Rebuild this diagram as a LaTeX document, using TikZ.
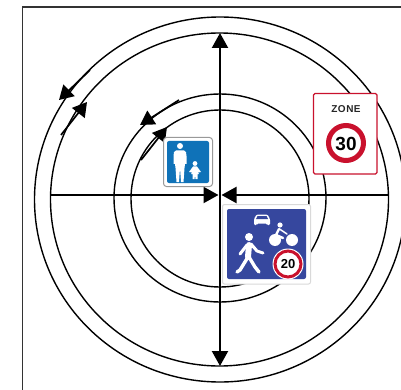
\documentclass[tikz,border=0pt]{standalone}
\usepackage{fontspec}
\setmainfont{Liberation Sans}
\usetikzlibrary{arrows.meta}
\definecolor{signblue}{HTML}{0F72B8}
\definecolor{zoneblue}{HTML}{36479E}
\definecolor{signred}{HTML}{C9112D}
\definecolor{framegrey}{HTML}{333333}
\tikzset{
  ring/.style={draw=black,line width=1.4pt},
  axis/.style={draw=black,line width=2.2pt,-{Triangle[length=15pt,width=16pt]}},
  flow/.style={draw=black,line width=1.7pt,-{Triangle[length=14pt,width=16pt]}},
  figure/.style={fill=white,draw=none},
  limb/.style={draw=white,line cap=round,line join=round},
  speedtext/.style={font=\bfseries,inner sep=0pt,text=black}
}
\begin{document}
\begin{tikzpicture}[x=1pt,y=-1pt]
\useasboundingbox (0,0) rectangle (401,390);
\fill[white] (0,0) rectangle (401,390);
% frame
\coordinate (fa) at (22.5,390);
\coordinate (fb) at (22.5,7);
\coordinate (fc) at (401,7);
\draw[framegrey,line width=1.4pt] (fa) -- (fb) -- (fc);
% rings
\begin{scope}
\clip (0,0) rectangle (401,390);
\draw[ring] (220,199.5) ellipse [x radius=185.5,y radius=182.5];
\draw[ring] (219.5,199.5) ellipse [x radius=169,y radius=166.5];
\draw[ring] (220,198) ellipse [x radius=106,y radius=104];
\draw[ring] (220,198.5) ellipse [x radius=89,y radius=88.5];
\end{scope}
% axes
\coordinate (c) at (220,195);
\coordinate (t) at (220,33);
\coordinate (b) at (220,366);
\coordinate (l) at (50,195);
\coordinate (r) at (388,195);
\coordinate (il) at (218.5,195);
\coordinate (ir) at (221.5,195);
\draw[axis] (c) -- (t);
\draw[axis] (c) -- (b);
\draw[axis] (l) -- (il);
\draw[axis] (r) -- (ir);
% flow arrows
\coordinate (a1s) at (90,70);   \coordinate (a1e) at (59,100);
\coordinate (a2s) at (61,135);  \coordinate (a2e) at (87,102);
\coordinate (a3s) at (179,100); \coordinate (a3e) at (140,125);
\coordinate (a4s) at (141,160); \coordinate (a4e) at (167,127);
\draw[flow] (a1s) -- (a1e);
\draw[flow] (a2s) -- (a2e);
\draw[flow] (a3s) -- (a3e);
\draw[flow] (a4s) -- (a4e);
% small pedestrian sign
\draw[draw=black!40,fill=white,line width=1pt,rounded corners=3pt] (163.5,137.5) rectangle (212.5,186.5);
\fill[signblue,rounded corners=2pt] (167,141) rectangle (209,183);
\fill[white] (180,146) circle (3);
\fill[figure] (176,150.5) -- (184,150.5) .. controls (186,150.5) and (186.5,153) .. (186.5,156) -- (186.5,164) -- (185,164) -- (184.5,168) -- (183.5,182) -- (181,182) -- (180,168) -- (179,182) -- (176.5,182) -- (175.5,168) -- (175,164) -- (173.5,164) -- (173.5,156) .. controls (173.5,153) and (174,150.5) .. (176,150.5) -- cycle;
\fill[white] (195,163.5) circle (2.4);
\fill[figure] (193,166.5) -- (197,166.5) -- (201,172) -- (198,172.5) -- (199,174) -- (197.5,174) -- (197.5,179) -- (195.5,179) -- (195,175) -- (194.5,179) -- (192.5,179) -- (192.5,174) -- (191,174) -- (192,172.5) -- (189,172) -- cycle;
% large shared-space sign
\draw[draw=black!15,fill=white,line width=1pt,rounded corners=2pt] (222.5,204.5) rectangle (310.5,284);
\fill[zoneblue,rounded corners=2pt] (227,209) rectangle (306,279);
% car
\fill[figure,rounded corners=1.2pt] (254,225) -- (254,219) -- (256.5,214.5) -- (267.5,214.5) -- (270,219) -- (270,225) -- (267,225) -- (267,223.5) -- (257,223.5) -- (257,225) -- cycle;
\fill[zoneblue] (257.5,216) -- (266.5,216) -- (268,219) -- (256,219) -- cycle;
% cyclist
\fill[white] (275,240) circle (6);
\fill[white] (292,240) circle (6);
\fill[white] (280,225) circle (2.6);
\draw[limb,line width=2.4pt] (279,229) -- (276,235) -- (283,238);
\draw[limb,line width=1.5pt] (279.5,229) -- (287,234);
% walking man
\fill[white] (249,237) circle (4);
\draw[limb,line width=6pt] (249,245) -- (248,257);
\draw[limb,line width=3pt] (247,245) -- (240,254);
\draw[limb,line width=3pt] (251,244) -- (257,251) -- (263,253);
\draw[limb,line width=3.4pt] (248,257) -- (240,270) -- (237,272);
\draw[limb,line width=3.4pt] (249,257) -- (255,267) -- (259,272);
% 20 roundel
\fill[white] (288,264) circle (15.5);
\draw[signred,line width=3pt,fill=white] (288,264) circle (13);
\node[speedtext,font=\bfseries\fontsize{13pt}{13pt}\selectfont] (limit20) at (288,264.5) {20};
% zone 30 sign
\draw[draw=signred,fill=white,line width=1.4pt,rounded corners=1.5pt] (313.5,93.5) rectangle (377,174);
\node[speedtext,font=\bfseries\fontsize{10pt}{10pt}\selectfont,text=black!85] (zone) at (346,109.5) {Z\kern0.5pt O\kern0.5pt N\kern0.5pt E};
\draw[signred,line width=5pt,fill=white] (346,143) circle (17.5);
\node[speedtext,font=\bfseries\fontsize{19pt}{19pt}\selectfont] (limit30) at (346,143.5) {30};
\end{tikzpicture}
\end{document}
